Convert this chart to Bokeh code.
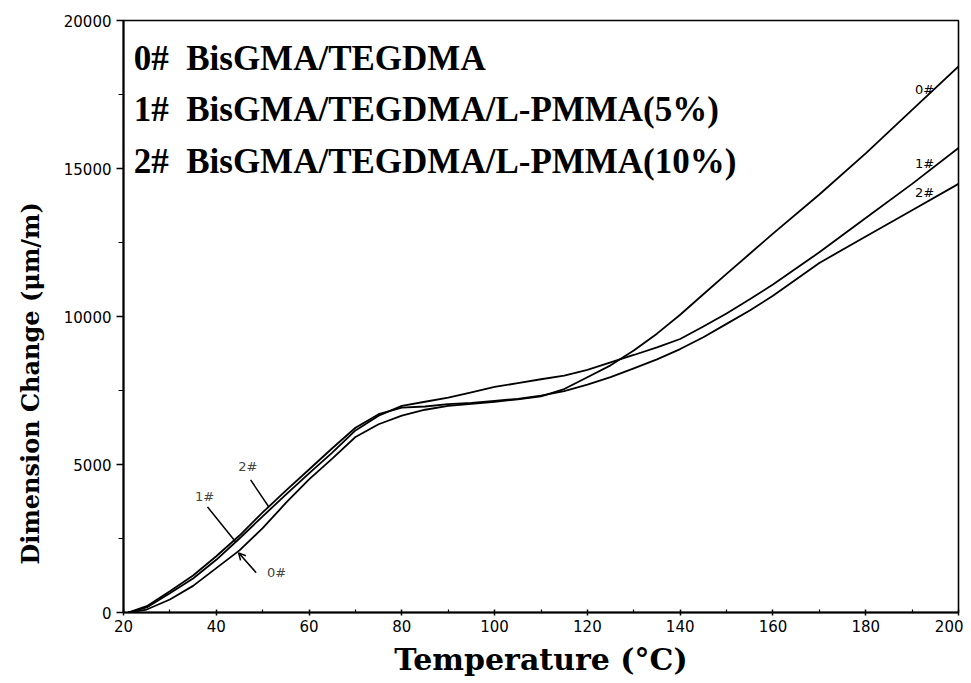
from bokeh.plotting import figure
from bokeh.models import FixedTicker, Label, Arrow, OpenHead, Range1d
from bokeh.embed import file_html
from bokeh.resources import INLINE
import numpy as np

# ---- data ----
temperature = [21, 25, 30, 35, 40, 45, 50, 55, 60, 65, 70, 75, 80, 85, 90, 95, 100,
               105, 110, 115, 120, 125, 130, 135, 140, 145, 150, 155, 160, 170, 180, 190, 200]
dim_0 = [0, 100, 440, 900, 1500, 2100, 2850, 3700, 4500, 5200, 5930, 6360, 6650, 6850,
         6980, 7050, 7120, 7200, 7300, 7550, 7950, 8350, 8850, 9420, 10060, 10750,
         11440, 12120, 12800, 14120, 15510, 16980, 18450]
dim_1 = [0, 170, 650, 1150, 1780, 2500, 3250, 3980, 4700, 5400, 6150, 6650, 6980, 7120,
         7260, 7440, 7620, 7750, 7880, 8000, 8200, 8450, 8700, 8960, 9240, 9660,
         10100, 10580, 11080, 12170, 13330, 14480, 15690]
dim_2 = [0, 213, 720, 1250, 1900, 2600, 3380, 4120, 4830, 5550, 6240, 6700, 6920, 6960,
         7040, 7080, 7150, 7220, 7330, 7480, 7700, 7950, 8250, 8550, 8900, 9300,
         9750, 10200, 10700, 11810, 12700, 13590, 14480]

legend_texts = ["0#\u00a0\u00a0BisGMA/TEGDMA",
                "1#\u00a0\u00a0BisGMA/TEGDMA/L-PMMA(5%)",
                "2#\u00a0\u00a0BisGMA/TEGDMA/L-PMMA(10%)"]
curve_tags = ["0#", "1#", "2#"]
x_title = "Temperature (°C)"
y_title = "Dimension Change (μm/m)"

x_major = [20, 40, 60, 80, 100, 120, 140, 160, 180, 200]
x_minor = [30, 50, 70, 90, 110, 130, 150, 170, 190]
y_major = [0, 5000, 10000, 15000, 20000]
y_minor = [2500, 7500, 12500, 17500]

p = figure(width=963, height=679, x_range=Range1d(20, 200), y_range=Range1d(0, 20000),
           output_backend="svg", toolbar_location=None,
           min_border_left=123, min_border_right=5, min_border_top=20, min_border_bottom=66)
p.grid.visible = False
p.background_fill_color = "white"
p.border_fill_color = "white"
p.outline_line_color = "black"
p.outline_line_width = 1.6

tick_font = "DejaVu Sans"
for ax in (p.xaxis[0], p.yaxis[0]):
    ax.axis_line_color = "black"
    ax.axis_line_width = 2
    ax.major_tick_line_color = "black"
    ax.minor_tick_line_color = "black"
    ax.major_tick_line_width = 1.5
    ax.minor_tick_line_width = 1.2
    ax.major_label_text_font = tick_font
    ax.major_label_text_font_size = "15px"
    ax.major_label_text_color = "black"
    ax.axis_label_text_font = "DejaVu Serif"
    ax.axis_label_text_font_style = "bold"
    ax.axis_label_text_color = "black"

p.xaxis.ticker = FixedTicker(ticks=x_major, minor_ticks=x_minor)
p.xaxis.major_tick_in = 3
p.xaxis.major_tick_out = 3
p.xaxis.minor_tick_in = 3
p.xaxis.minor_tick_out = 0
p.xaxis.major_label_standoff = 4
p.xaxis.axis_label = x_title
p.xaxis.axis_label_text_font_size = "30px"
p.xaxis.axis_label_standoff = 7

p.yaxis.ticker = FixedTicker(ticks=y_major, minor_ticks=y_minor)
p.yaxis.major_tick_in = 0
p.yaxis.major_tick_out = 7
p.yaxis.minor_tick_in = 0
p.yaxis.minor_tick_out = 5
p.yaxis.major_label_standoff = 5
# trailing no-break spaces shift the rotated title below the frame centre, as in the reference
p.yaxis.axis_label = y_title + "\u00a0" * 16
p.yaxis.axis_label_text_font_size = "24px"
p.yaxis.axis_label_standoff = 16

series = [dim_0, dim_1, dim_2]
for ys in series:
    p.line(temperature, ys, line_color="black", line_width=1.8)

# legend text block (top-left inside frame)
for i, t in enumerate(legend_texts):
    p.add_layout(Label(x=22.2, y=18720 - i * 1740, text=t, text_font="Liberation Serif",
                       text_font_style="bold", text_font_size="35px", text_color="black",
                       text_baseline="middle", text_align="left"))

# tags at right end of curves
tag_x = 192.7
tag_offsets = [280, 360, 370]
for tag, ys, off in zip(curve_tags, series, tag_offsets):
    yv = float(np.interp(tag_x, temperature, ys)) + off
    p.add_layout(Label(x=tag_x, y=yv, text=tag, text_font=tick_font, text_font_size="13px",
                       text_color="black", text_baseline="middle", text_align="center"))

# early labels with pointer lines
tip2 = 51.3
p.add_layout(Label(x=46.8, y=4916, text="2#", text_font=tick_font, text_font_size="13px",
                   text_baseline="middle", text_align="center"))
p.segment(x0=[47.4], y0=[4478], x1=[tip2], y1=[float(np.interp(tip2, temperature, dim_2))],
          line_color="black", line_width=1.5)
tip1 = 44.2
p.add_layout(Label(x=37.5, y=3906, text="1#", text_font=tick_font, text_font_size="13px",
                   text_baseline="middle", text_align="center"))
p.segment(x0=[38.1], y0=[3569], x1=[tip1], y1=[float(np.interp(tip1, temperature, dim_1))],
          line_color="black", line_width=1.5)
tip0 = 44.8
p.add_layout(Label(x=53.0, y=1347, text="0#", text_font=tick_font, text_font_size="13px",
                   text_baseline="middle", text_align="center"))
p.add_layout(Arrow(end=OpenHead(size=7, line_width=1.5, line_color="black"),
                   x_start=48.6, y_start=1347, x_end=tip0,
                   y_end=float(np.interp(tip0, temperature, dim_0)) - 60,
                   line_color="black", line_width=1.5))

open("out.html", "w").write(file_html(p, INLINE))
